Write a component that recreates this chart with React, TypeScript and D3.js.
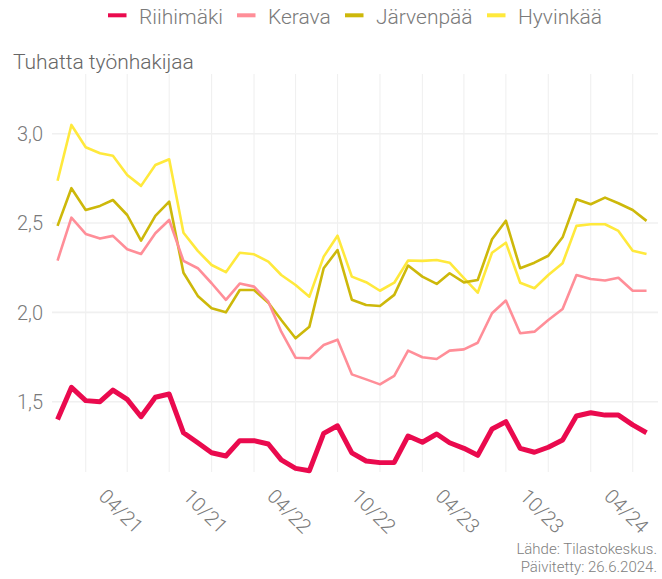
import React from "react";
import * as d3 from "d3";

const months: string[] = [
  "2020-11","2020-12","2021-01","2021-02","2021-03","2021-04","2021-05","2021-06","2021-07","2021-08","2021-09","2021-10",
  "2021-11","2021-12","2022-01","2022-02","2022-03","2022-04","2022-05","2022-06","2022-07","2022-08","2022-09","2022-10",
  "2022-11","2022-12","2023-01","2023-02","2023-03","2023-04","2023-05","2023-06","2023-07","2023-08","2023-09","2023-10",
  "2023-11","2023-12","2024-01","2024-02","2024-03","2024-04","2024-05"
];

const riihimaki: number[] = [
  1.40,1.58,1.506,1.50,1.565,1.513,1.416,1.525,1.543,1.326,1.27,1.214,
  1.196,1.282,1.282,1.263,1.174,1.127,1.114,1.323,1.365,1.214,1.168,1.159,
  1.16,1.308,1.273,1.319,1.27,1.239,1.20,1.347,1.388,1.239,1.217,1.245,
  1.286,1.42,1.438,1.425,1.425,1.37,1.326
];
const kerava: number[] = [
  2.29,2.53,2.439,2.413,2.428,2.353,2.327,2.443,2.517,2.288,2.247,2.163,
  2.07,2.161,2.144,2.06,1.892,1.746,1.743,1.817,1.847,1.653,1.625,1.597,
  1.644,1.786,1.749,1.739,1.786,1.793,1.83,1.995,2.066,1.883,1.892,1.957,
  2.019,2.209,2.187,2.178,2.194,2.121,2.121
];
const jarvenpaa: number[] = [
  2.484,2.695,2.573,2.596,2.629,2.545,2.401,2.54,2.62,2.222,2.092,2.023,
  2.0,2.125,2.125,2.054,1.957,1.855,1.92,2.247,2.349,2.071,2.041,2.036,
  2.098,2.262,2.20,2.159,2.219,2.168,2.181,2.409,2.513,2.247,2.278,2.317,
  2.42,2.633,2.605,2.642,2.611,2.573,2.512
];
const hyvinkaa: number[] = [
  2.737,3.049,2.924,2.891,2.877,2.769,2.708,2.825,2.857,2.446,2.344,2.265,
  2.225,2.334,2.325,2.284,2.209,2.153,2.088,2.312,2.429,2.20,2.169,2.121,
  2.166,2.29,2.288,2.293,2.278,2.191,2.11,2.334,2.39,2.166,2.135,2.209,
  2.275,2.484,2.493,2.493,2.456,2.345,2.327
];

const seriesNames = ["Riihimäki", "Kerava", "Järvenpää", "Hyvinkää"];
const seriesColors = ["#ea0a4e", "#ff8e98", "#cdb80a", "#ffe93c"];
const seriesWidths = [5, 2.6, 2.6, 2.6];

const yTicks: number[] = [1.5, 2.0, 2.5, 3.0];
const xLabelDates: string[] = ["2021-04", "2021-10", "2022-04", "2022-10", "2023-04", "2023-10", "2024-04"];
const xGridDates: string[] = [
  "2021-01","2021-04","2021-07","2021-10","2022-01","2022-04","2022-07","2022-10",
  "2023-01","2023-04","2023-07","2023-10","2024-01","2024-04"
];

const yTitle = "Tuhatta työnhakijaa";
const caption = ["Lähde: Tilastokeskus.", "Päivitetty: 26.6.2024."];

const parse = (s: string) => new Date(+s.slice(0, 4), +s.slice(5, 7) - 1, 1);
const fmt = (d: Date) => d3.timeFormat("%m/%y")(d);

export default function App() {
  const W = 662, H = 579;
  const panel = { left: 52, right: 658, top: 74, bottom: 472 };

  const x = d3.scaleTime().domain([parse("2021-01"), parse("2024-04")]).range([85.7, 632.7]);
  const y = d3.scaleLinear().domain([1.5, 3.0]).range([401.7, 133.7]);

  const dates = months.map(parse);
  const all = [riihimaki, kerava, jarvenpaa, hyvinkaa];

  const line = d3.line<number>()
    .x((_, i) => x(dates[i]))
    .y((v) => y(v));

  const legendX = [108, 237, 345, 487];
  const font = "Roboto, 'Noto Sans', sans-serif";

  return (
    <svg width={W} height={H} style={{ position: "absolute", left: 0, top: 0, background: "#fff" }}>
      <defs>
        <clipPath id="pclip">
          <rect x={panel.left} y={panel.top} width={panel.right - panel.left} height={panel.bottom - panel.top + 3} />
        </clipPath>
      </defs>
      {xGridDates.map((d) => (
        <line key={d} x1={x(parse(d))} x2={x(parse(d))} y1={panel.top} y2={panel.bottom}
          stroke="#f0f0f0" strokeWidth={1.1} />
      ))}
      {yTicks.map((t) => (
        <line key={t} x1={panel.left} x2={panel.right} y1={y(t)} y2={y(t)} stroke="#f0f0f0" strokeWidth={1.6} />
      ))}
      {yTicks.map((t) => (
        <text key={"l" + t} x={43} y={y(t)} dy="0.36em" textAnchor="end" fontFamily={font} fontWeight={300}
          fontSize={20} fill="#7a7a7a">{d3.format(".1f")(t).replace(".", ",")}</text>
      ))}
      {xLabelDates.map((d) => {
        const px = x(parse(d));
        return (
          <text key={d} transform={`translate(${px - 6},511) rotate(45)`} textAnchor="middle" dy="0.36em"
            fontFamily={font} fontWeight={300} fontSize={20} fill="#7a7a7a">{fmt(parse(d))}</text>
        );
      })}
      <g clipPath="url(#pclip)">
        {all.map((s, i) => ({ s, i })).reverse().map(({ s, i }) => (
          <path key={seriesNames[i]} d={line(s) || ""} fill="none" stroke={seriesColors[i]}
            strokeWidth={seriesWidths[i]} strokeLinejoin="round" strokeLinecap="butt" />
        ))}
      </g>
      <text x={13} y={69} fontFamily={font} fontWeight={300} fontSize={21}
        fill="#666666">{yTitle}</text>
      {seriesNames.map((n, i) => (
        <g key={n}>
          <rect x={legendX[i]} y={13.3} width={18.5} height={4} fill={seriesColors[i]} />
          <text x={legendX[i] + 31} y={24.3} fontFamily={font} fontWeight={300} fontSize={21} fill="#7a7a7a">{n}</text>
        </g>
      ))}
      {caption.map((c, i) => (
        <text key={c} x={657} y={554 + i * 17.6} textAnchor="end" fontFamily={font} fontWeight={300}
          fontSize={15} fill="#808080">{c}</text>
      ))}
    </svg>
  );
}
